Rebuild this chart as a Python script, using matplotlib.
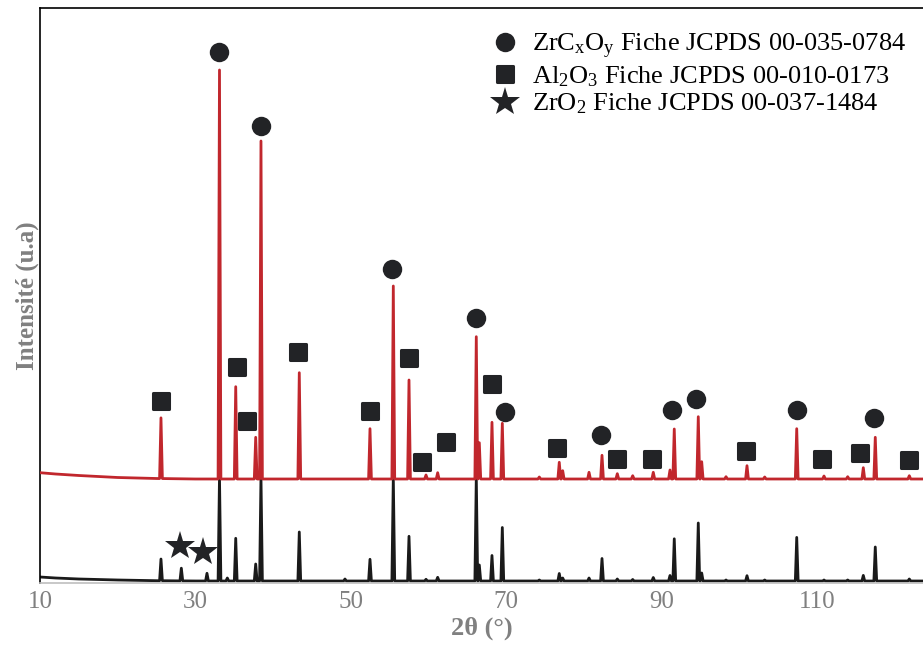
import numpy as np
import matplotlib
matplotlib.use("Agg")
import matplotlib.pyplot as plt
from matplotlib.lines import Line2D
from matplotlib.markers import MarkerStyle

plt.rcParams['font.family'] = ['Liberation Serif', 'DejaVu Serif']
plt.rcParams['mathtext.fontset'] = 'custom'
plt.rcParams['mathtext.rm'] = 'Liberation Serif'

# peak positions (2theta, deg) shared by both patterns
peaks = [25.57, 28.19, 31.49, 33.10, 34.11, 35.19, 37.76, 38.44, 43.37, 49.25,
         52.47, 55.47, 57.49, 59.68, 61.18, 66.15, 66.54, 68.17, 69.50, 74.26,
         76.83, 77.27, 80.66, 82.33, 84.30, 86.28, 88.93, 91.08, 91.63, 94.72,
         95.16, 98.29, 100.99, 103.27, 107.39, 110.90, 113.95, 115.96, 117.50, 121.88]
# heights above baseline (u.a)
red_h = [60.7, 0, 0, 409, 0, 92.3, 41.7, 338, 106.3, 0,
         50.3, 193, 99, 4, 6.3, 142.3, 36.3, 56.7, 55.7, 2,
         16.7, 8.3, 6.7, 23.7, 5.3, 3.3, 6.7, 9, 50, 62.3,
         17.3, 2.3, 13.3, 2, 50.3, 3, 2.3, 11.3, 41.7, 3.3]
black_h = [21.7, 12.7, 7.7, 104, 3, 42.7, 17, 104, 49, 2,
           21.7, 104, 44.7, 1.7, 3.7, 104, 16, 25.5, 53.5, 1,
           7.5, 3, 3, 22.5, 2, 1.5, 3.5, 5.5, 42.2, 58,
           8, 1, 5.3, 1, 43.6, 1, 1, 5.6, 34, 2]
red_offset = 102

# background at low angle
bg_x = [10, 12, 15, 20, 25, 30, 124]
red_bg = [6.3, 5, 3.5, 1.5, 0.5, 0, 0]
black_bg = [4, 3, 2, 1, 0.3, 0, 0]

# phase markers (2theta, height)
zrc_x = [33.07, 38.44, 55.26, 66.15, 69.88, 82.24, 91.38, 94.47, 107.43, 117.38]
zrc_y = [528.7, 455, 312, 262.7, 168.7, 145.7, 171.3, 182, 171.3, 163]
al_x = [25.53, 35.39, 36.68, 43.20, 52.47, 57.49, 59.20, 62.25, 68.17, 76.58,
        84.30, 88.80, 100.82, 110.68, 115.53, 121.88]
al_y = [179.7, 214.3, 160.3, 229, 169.7, 223.3, 119, 139, 197.3, 133,
        122, 122.3, 130.3, 122.3, 128, 121.3]
zro2_x = [28.02, 30.94]
zro2_y = [35, 28.7]


def pattern(heights, bg, offset):
    w = 0.18
    xs = list(bg_x)
    ys = list(bg)
    for p, h in zip(peaks, heights):
        if h <= 0:
            continue
        b = np.interp(p, bg_x, bg)
        xs += [p - w, p, p + w]
        ys += [b, b + h, b]
    order = np.argsort(xs, kind='stable')
    return np.array(xs)[order], np.array(ys)[order] + offset


fig = plt.figure(figsize=(9.23, 6.61), dpi=100)
ax = fig.add_axes([40 / 923, 78 / 661, 883 / 923, 575 / 661])

x, y = pattern(black_h, black_bg, 0)
ax.plot(x, y, color='#1a1a1a', lw=2.0, solid_joinstyle='round', zorder=2)
x, y = pattern(red_h, red_bg, red_offset)
ax.plot(x, y, color='#c1272d', lw=2.0, solid_joinstyle='round', zorder=3)

mk = '#222326'
sq = MarkerStyle('s', joinstyle='round')
ax.plot(zrc_x, zrc_y, 'o', color=mk, ms=14, mew=0, zorder=4)
ax.plot(al_x, al_y, ls='', marker=sq, color=mk, ms=12, mew=2.2, mec=mk, zorder=4)
ax.plot(zro2_x, zro2_y, '*', color=mk, ms=22, mew=0, zorder=4)

ax.set_xlim(10, 10 + 883 / 7.77)
ax.set_ylim(-2, 573)
ax.set_xticks([10, 30, 50, 70, 90, 110])
ax.set_yticks([])
ax.tick_params(axis='x', length=0, pad=6, labelsize=18, labelcolor='#808080')
ax.spines['right'].set_visible(False)
ax.spines['bottom'].set_color('#bfbfbf')
ax.spines['bottom'].set_linewidth(1.2)
ax.spines['left'].set_linewidth(1.2)
ax.spines['top'].set_linewidth(1.2)
ax.set_xlabel('2θ (°)', fontsize=19, fontweight='bold', color='#808080', labelpad=2)
ax.set_ylabel('Intensité (u.a)', fontsize=18, fontweight='bold', color='#808080', labelpad=1)

handles = [
    Line2D([], [], ls='', marker='o', color=mk, ms=14, mew=0),
    Line2D([], [], ls='', marker=sq, color=mk, ms=12, mew=2.2, mec=mk),
    Line2D([], [], ls='', marker='*', color=mk, ms=22, mew=0),
]
labels = [r'ZrC$\mathregular{_x}$O$\mathregular{_y}$ Fiche JCPDS 00-035-0784',
          r'Al$\mathregular{_2}$O$\mathregular{_3}$ Fiche JCPDS 00-010-0173',
          r'ZrO$\mathregular{_2}$ Fiche JCPDS 00-037-1484']
ax.legend(handles, labels, loc='upper right', bbox_to_anchor=(1.008, 1.0),
          frameon=False, fontsize=19, handlelength=1.0, handletextpad=0.55,
          labelspacing=0.12, borderaxespad=0.5)

fig.savefig('out.png', dpi=100)
